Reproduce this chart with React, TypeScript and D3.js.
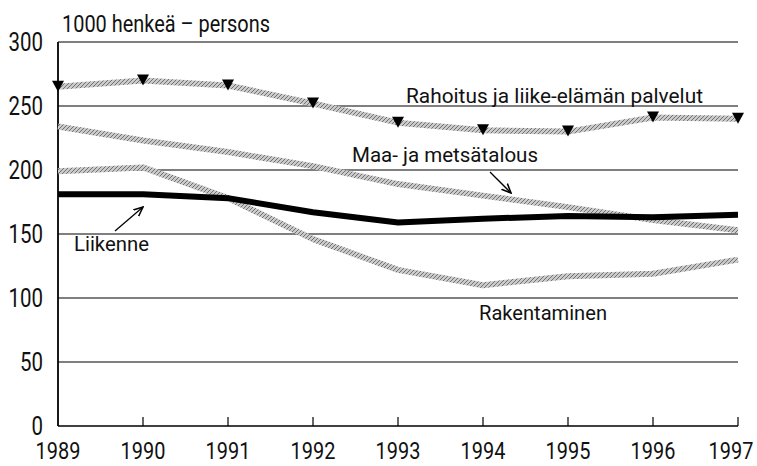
import React from "react";
import * as d3 from "d3";

const years = [1989, 1990, 1991, 1992, 1993, 1994, 1995, 1996, 1997];
const rahoitus = [265, 270, 266, 252, 237, 231, 230, 241, 240];
const maaMetsa = [234, 223, 214, 203, 189, 180, 171, 161, 153];
const rakentaminen = [199, 202, 178, 146, 122, 110, 117, 119, 130];
const liikenne = [181, 181, 178, 167, 159, 162, 164, 163, 165];
const yTicks = [0, 50, 100, 150, 200, 250, 300];

const W = 757;
const H = 466;
const FONT = "'Roboto', 'Liberation Sans', sans-serif";

export default function App() {
  const x = d3.scaleLinear().domain([1989, 1997]).range([58, 738]);
  const y = d3.scaleLinear().domain([0, 300]).range([426, 42]);
  const line = d3
    .line<number>()
    .x((_, i) => x(years[i]))
    .y((d) => y(d))
    .curve(d3.curveLinear);

  const tri = (cx: number, cy: number) =>
    `M${cx - 6},${cy - 6}L${cx + 6},${cy - 6}L${cx},${cy + 5}Z`;

  const label = (
    txt: string,
    lx: number,
    ly: number,
    len: number,
    size: number
  ) => (
    <text
      x={lx}
      y={ly}
      fontSize={size}
      fill="#111"
      textLength={len}
      lengthAdjust="spacingAndGlyphs"
    >
      {txt}
    </text>
  );

  return (
    <svg
      width={W}
      height={H}
      style={{ position: "absolute", left: 0, top: 0, background: "#fff" }}
      fontFamily={FONT}
    >
      <defs>
        <pattern id="hatch" width="4" height="4" patternUnits="userSpaceOnUse">
          <rect width="4" height="4" fill="#cacaca" />
          <path d="M0,4L4,0" stroke="#666" strokeWidth="0.9" />
        </pattern>
        <marker
          id="arr"
          viewBox="0 0 10 10"
          refX="9"
          refY="5"
          markerWidth="8"
          markerHeight="8"
          orient="auto"
        >
          <path d="M0,1L9,5L0,9" fill="none" stroke="#000" strokeWidth="1.5" />
        </marker>
      </defs>

      {/* gridlines */}
      {yTicks.map((t) => (
        <line
          key={t}
          x1={x(1989)}
          x2={x(1997)}
          y1={y(t)}
          y2={y(t)}
          stroke="#000"
          strokeWidth={t === 0 ? 1.5 : 1.2}
        />
      ))}
      {/* y axis */}
      <line x1={x(1989)} x2={x(1989)} y1={y(300)} y2={y(0)} stroke="#000" strokeWidth={1.8} />
      {/* y labels */}
      {yTicks.map((t) => {
        const s = String(t);
        const len = s.length * 11.5;
        return (
          <text
            key={t}
            x={43 - len}
            y={y(t) + 9}
            fontSize={25}
            fill="#111"
            textLength={len}
            lengthAdjust="spacingAndGlyphs"
          >
            {s}
          </text>
        );
      })}
      {/* x ticks and labels */}
      {years.map((yr) => {
        const cx = Math.min(x(yr), 731);
        return (
          <g key={yr}>
            {yr !== 1989 && (
              <line x1={x(yr)} x2={x(yr)} y1={y(0)} y2={y(0) - 9} stroke="#000" strokeWidth={1.2} />
            )}
            <text
              transform={`translate(${cx},459) scale(0.83,1)`}
              textAnchor="middle"
              fontSize={24}
              fill="#111"
            >
              {yr}
            </text>
          </g>
        );
      })}

      {/* series */}
      <path d={line(rakentaminen) || ""} fill="none" stroke="url(#hatch)" strokeWidth={6} strokeLinejoin="round" />
      <path d={line(maaMetsa) || ""} fill="none" stroke="url(#hatch)" strokeWidth={6} strokeLinejoin="round" />
      <path d={line(liikenne) || ""} fill="none" stroke="#000" strokeWidth={6} strokeLinejoin="round" />
      <path d={line(rahoitus) || ""} fill="none" stroke="url(#hatch)" strokeWidth={6} strokeLinejoin="round" />
      {rahoitus.map((v, i) => (
        <path key={i} d={tri(x(years[i]), y(v))} fill="#000" />
      ))}

      {/* labels */}
      {label("1000 henkeä – persons", 62, 32, 208, 24)}
      {label("Rahoitus ja liike-elämän palvelut", 406, 103, 297, 21)}
      {label("Maa- ja metsätalous", 352, 162, 186, 21)}
      <line x1={490} y1={172} x2={511} y2={193} stroke="#000" strokeWidth={1.3} markerEnd="url(#arr)" />
      {label("Liikenne", 74, 251, 75, 19.5)}
      <line x1={115} y1={231} x2={143} y2={207} stroke="#000" strokeWidth={1.3} markerEnd="url(#arr)" />
      {label("Rakentaminen", 479, 320, 128, 21)}
    </svg>
  );
}
